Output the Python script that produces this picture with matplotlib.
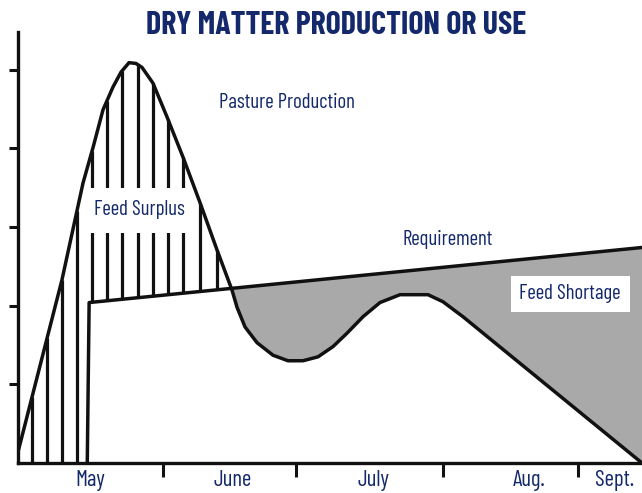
import matplotlib

matplotlib.use("Agg")

import matplotlib.pyplot as plt
import numpy as np
from matplotlib.patches import Rectangle

# x: position in the grazing season (0 = start of May, 100 = early Sept.)
# y: dry matter, relative units
prod_x = [0.0, 7.05, 10.42, 12.02, 13.62, 15.22, 16.51, 17.79, 18.91, 19.87,
          21.63, 23.88, 26.44, 29.17, 31.89, 34.29, 35.10, 36.38, 38.30, 40.87,
          43.27, 45.67, 48.08, 50.48, 52.72, 55.29, 58.01, 61.22, 65.71, 68.11,
          71.31, 100.0]
prod_y = [0.14, 2.33, 3.56, 4.01, 4.49, 4.78, 4.97, 5.09, 5.08, 5.03,
          4.83, 4.40, 3.89, 3.31, 2.71, 2.20, 1.98, 1.73, 1.53, 1.37,
          1.30, 1.30, 1.35, 1.48, 1.65, 1.86, 2.04, 2.14, 2.14, 2.05,
          1.86, 0.0]

req_x = [11.1, 11.4, 100.0]
req_y = [0.0, 2.04, 2.74]

hatch_x = [2.24, 4.65, 7.05, 9.46, 11.86, 14.26, 16.67, 19.23, 21.63,
           24.04, 26.44, 29.17, 31.89]

month_edges = [23.24, 44.55, 68.11, 89.74]
month_labels = ["May", "June", "July", "Aug.", "Sept."]
month_label_x = [11.54, 34.46, 56.89, 81.89, 95.67]
dm_ticks = [1, 2, 3, 4, 5]

NAVY = "#14296b"
GREY = "#a9a9a9"
INK = "#111111"
FONT = ["Barlow Condensed", "DejaVu Sans"]

plt.rcParams["font.family"] = FONT

fig = plt.figure(figsize=(6.42, 4.93), dpi=100)
ax = fig.add_axes([18 / 642, 30 / 493, 624 / 642, 431 / 493])

prod_x = np.array(prod_x)
prod_y = np.array(prod_y)

# feed shortage: requirement above production after the crossing
mask = prod_x >= 34.29
sx = prod_x[mask]
ax.fill_between(sx, prod_y[mask], np.interp(sx, req_x, req_y),
                color=GREY, lw=0, zorder=1)

# feed surplus hatching
for hx in hatch_x:
    lo = 0.0 if hx < req_x[1] else np.interp(hx, req_x, req_y)
    hi = np.interp(hx, prod_x, prod_y)
    ax.plot([hx, hx], [lo, hi], color=INK, lw=2.3, solid_capstyle="butt", zorder=2)

ax.add_patch(Rectangle((10.7, 2.93), 17.2, 0.57, facecolor="white",
                       edgecolor="none", zorder=3))

ax.plot(prod_x, prod_y, color=INK, lw=2.5, solid_joinstyle="round", zorder=4)
ax.plot(req_x, req_y, color=INK, lw=2.5, solid_joinstyle="round", zorder=4)

ax.set_xlim(0, 100)
ax.set_ylim(0, 5.48)

for side in ("top", "right"):
    ax.spines[side].set_visible(False)
for side in ("left", "bottom"):
    ax.spines[side].set_linewidth(2.4)
    ax.spines[side].set_color(INK)

ax.set_yticks(dm_ticks)
ax.set_yticklabels([])
ax.tick_params(axis="y", direction="out", length=6.5, width=2.2, color=INK)

ax.set_xticks(month_edges)
ax.set_xticklabels([])
ax.set_xticks(month_label_x, minor=True)
ax.set_xticklabels(month_labels, minor=True)
ax.tick_params(axis="x", which="major", direction="out", length=10, width=2.2, color=INK)
ax.tick_params(axis="x", which="minor", length=0, pad=5, labelsize=16.5, labelcolor=NAVY)

ax.text(43.1, 4.58, "Pasture Production", ha="center", va="center",
        fontsize=15, color=NAVY, zorder=5)
ax.text(19.4, 3.22, "Feed Surplus", ha="center", va="center",
        fontsize=15, color=NAVY, zorder=5)
ax.text(68.9, 2.84, "Requirement", ha="center", va="center",
        fontsize=15, color=NAVY, zorder=5)
ax.text(88.5, 2.15, "Feed Shortage", ha="center", va="center",
        fontsize=15, color=NAVY, zorder=5,
        bbox=dict(boxstyle="square,pad=0.42", facecolor="white", edgecolor="none"))

fig.text(336 / 642, 1 - 25 / 493, "DRY MATTER PRODUCTION OR USE", ha="center",
         va="center", fontsize=23, fontweight="bold", color=NAVY)

fig.savefig("out.png", dpi=100)
